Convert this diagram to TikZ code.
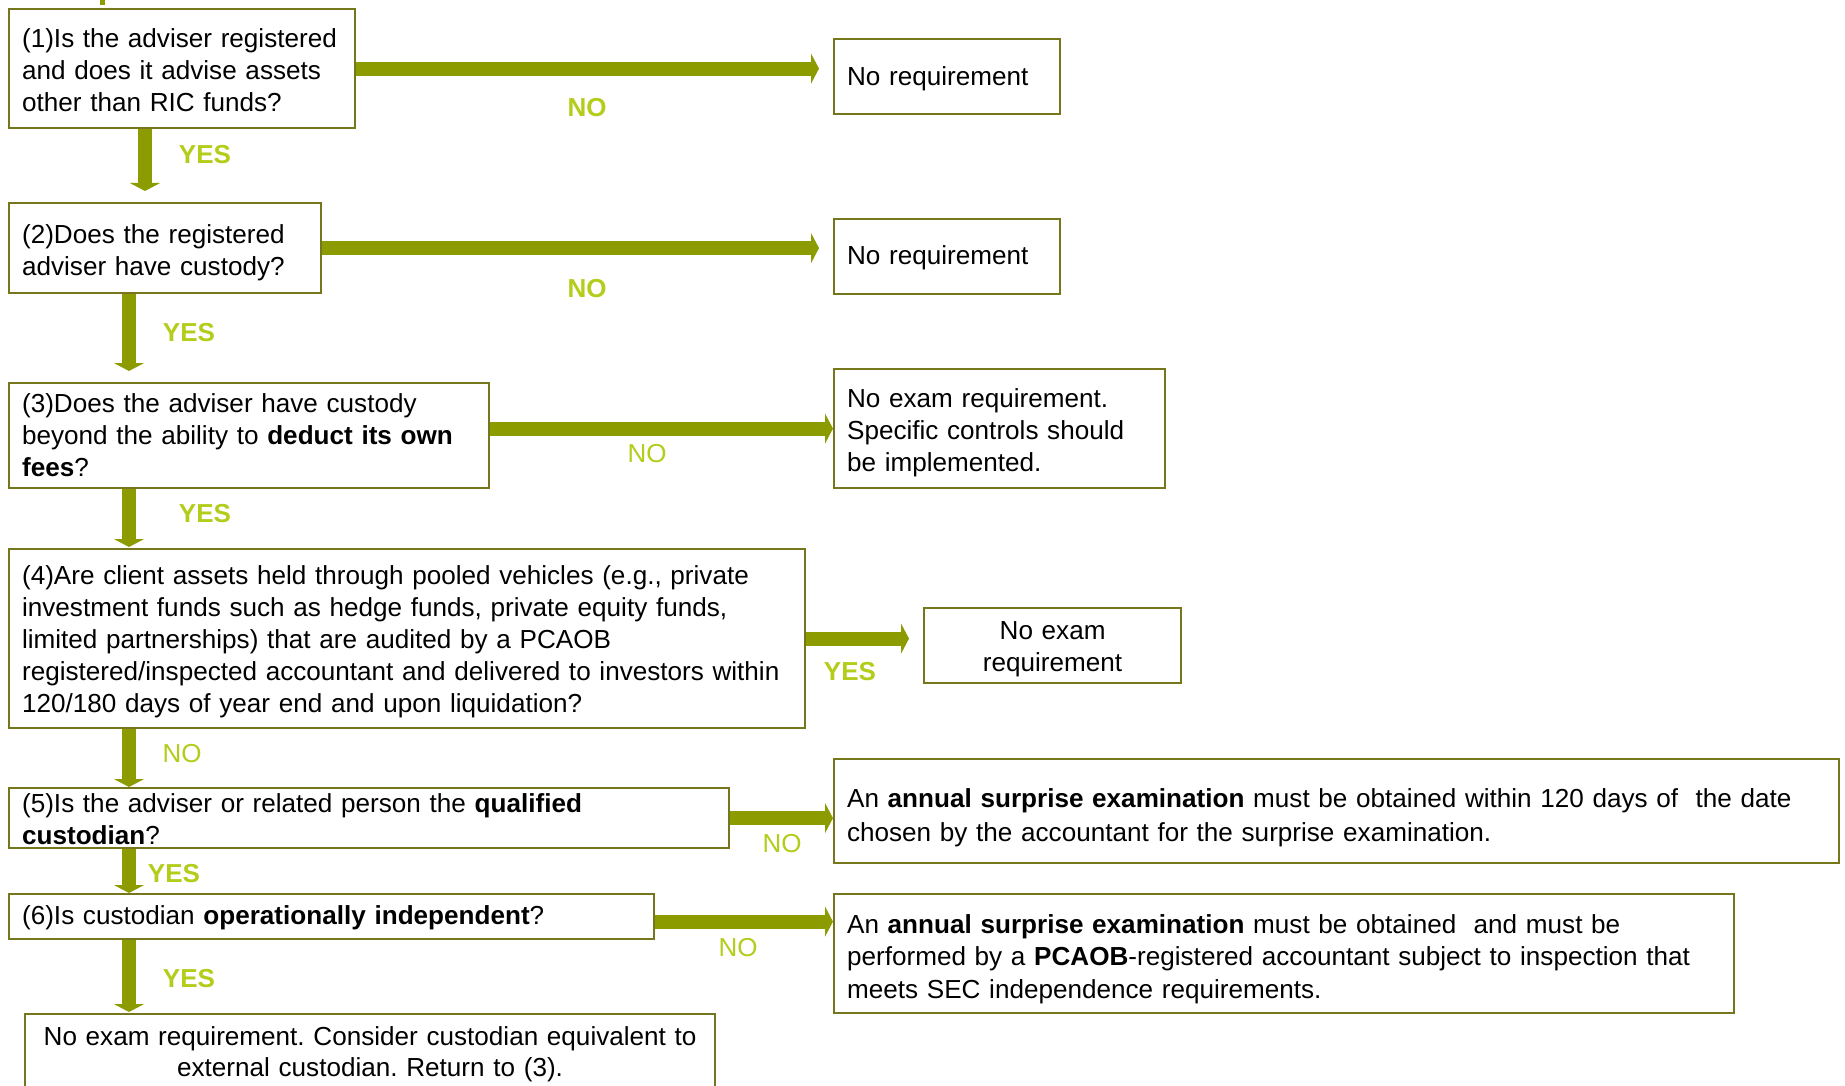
\documentclass[tikz,border=0pt]{standalone}
\usepackage{fontspec}
\setmainfont{Liberation Sans}
\usetikzlibrary{arrows.meta,calc}
\definecolor{arrowolive}{HTML}{8C9C00}
\definecolor{boxolive}{HTML}{76761C}
\definecolor{labelgreen}{HTML}{B4CC1A}
\frenchspacing
\begin{document}
\begin{tikzpicture}[x=1pt,y=-1pt,
  box/.style={draw=boxolive, line width=2.2pt, fill=white, inner xsep=13pt, inner ysep=0pt,
    align=left, anchor=north west, font=\fontsize{26.1}{32}\selectfont},
  cbox/.style={box, align=center},
  % lowers the text inside a box by #1 (taller first line)
  lower text/.style={execute at begin node={\rule{0pt}{\dimexpr19.5pt+2\dimexpr#1\relax\relax}}},
  flow/.style={line width=14pt, draw=arrowolive, -{Triangle[width=30pt,length=8pt]}},
  lab/.style={text=labelgreen, font=\fontsize{26}{30}\selectfont\bfseries, inner sep=0pt},
  labn/.style={text=labelgreen, font=\fontsize{26}{30}\selectfont, inner sep=0pt},
]
\useasboundingbox (0,0) rectangle (1845,1086);
\fill[white] (0,0) rectangle (1845,1086);

% stub of a connector entering from above
\fill[arrowolive] (100,0) rectangle (105,5);

% question boxes
\node[box, lower text=1pt, text width=320pt, minimum height=119pt] (q1) at (8,8)
  {(1)Is the adviser registered\\and does it advise assets\\other than RIC funds?};
\node[box, lower text=4pt, text width=286pt, minimum height=90pt] (q2) at (8,202)
  {(2)Does the registered\\adviser have custody?};
\node[box, text width=454pt, minimum height=105pt] (q3) at (8,382)
  {(3)Does the adviser have custody\\beyond the ability to \textbf{deduct its own}\\\textbf{fees}?};
\node[box, lower text=3pt, text width=770pt, minimum height=179pt] (q4) at (8,548)
  {(4)Are client assets held through pooled vehicles (e.g., private\\investment funds such as hedge funds, private equity funds,\\limited partnerships) that are audited by a PCAOB\\registered/inspected accountant and delivered to investors within\\120/180 days of year end and upon liquidation?};
\node[box, lower text=1pt, text width=694pt, minimum height=60pt] (q5) at (8,787)
  {(5)Is the adviser or related person the \textbf{qualified}\\\textbf{custodian}?};
\node[box, lower text=1pt, text width=619pt, minimum height=45pt] (q6) at (8,893)
  {(6)Is custodian \textbf{operationally independent}?};

% outcome boxes
\node[box, lower text=2pt, text width=200pt, minimum height=75pt] (r1) at (833,38) {No requirement};
\node[box, lower text=1pt, text width=200pt, minimum height=75pt] (r2) at (833,218) {No requirement};
\node[box, lower text=4pt, text width=305pt, minimum height=119pt] (r3) at (833,368)
  {No exam requirement.\\Specific controls should\\be implemented.};
\node[cbox, lower text=3pt, text width=231pt, minimum height=75pt] (r4) at (923,607)
  {No exam\\requirement};
\node[box, lower text=6pt, text width=979pt, minimum height=104pt, font=\fontsize{26.1}{34}\selectfont] (r5) at (833,758)
  {An \textbf{annual surprise examination} must be obtained within 120 days of\ \ the date\\chosen by the accountant for the surprise examination.};
\node[box, lower text=5pt, text width=874pt, minimum height=119pt, font=\fontsize{26.1}{32.4}\selectfont] (r6) at (833,893)
  {An \textbf{annual surprise examination} must be obtained\ \ and must be\\performed by a \textbf{PCAOB}-registered accountant subject to inspection that\\meets SEC independence requirements.};
\node[cbox, lower text=1.5pt, inner xsep=6pt, text width=678pt, minimum height=77pt, font=\fontsize{26.1}{31}\selectfont] (r7) at (24,1013)
  {No exam requirement. Consider custodian equivalent to\\external custodian. Return to (3).};

% horizontal connectors
\draw[flow, shorten >=14pt] (q1.east) -- (q1.east -| r1.west);
\draw[flow, shorten >=14pt] (q2.east) -- (q2.east -| r2.west);
\draw[flow] ([yshift=7pt]q3.east) -- ([yshift=7pt]q3.east -| r3.west);
\draw[flow, shorten >=14pt] (q4.east) -- (q4.east -| r4.west);
\draw[flow] (q5.east) -- (q5.east -| r5.west);
\draw[flow] ([yshift=-5pt]q6.east) -- ([yshift=-5pt]q6.east -| r6.west);

% vertical connectors
\coordinate (v1) at ($(q1.south west)+(137,0)$);
\coordinate (v2) at ($(q2.south west)+(121,0)$);
\coordinate (v3) at ($(q3.south west)+(121,0)$);
\coordinate (v4) at ($(q4.south west)+(121,0)$);
\coordinate (v5) at ($(q5.south west)+(121,0)$);
\coordinate (v6) at ($(q6.south west)+(121,0)$);
\draw[flow, shorten >=11pt] (v1) -- (v1 |- q2.north);
\draw[flow, shorten >=11pt] (v2) -- (v2 |- q3.north);
\draw[flow, shorten >=1pt] (v3) -- (v3 |- q4.north);
\draw[flow] (v4) -- (v4 |- q5.north);
\draw[flow] (v5) -- (v5 |- q6.north);
\draw[flow, shorten >=1pt] (v6) -- (v6 |- r7.north);

% branch labels
\node[lab]  (n1) at (587,108) {NO};
\node[lab]  (y1) at (205,155) {YES};
\node[lab]  (n2) at (587,289) {NO};
\node[lab]  (y2) at (189,333) {YES};
\node[labn] (n3) at (647,454) {NO};
\node[lab]  (y3) at (205,514) {YES};
\node[lab]  (y4) at (850,672) {YES};
\node[labn] (n4) at (182,754) {NO};
\node[labn] (n5) at (782,844) {NO};
\node[lab]  (y5) at (174,874) {YES};
\node[labn] (n6) at (738,948) {NO};
\node[lab]  (y6) at (189,979) {YES};
\end{tikzpicture}
\end{document}
